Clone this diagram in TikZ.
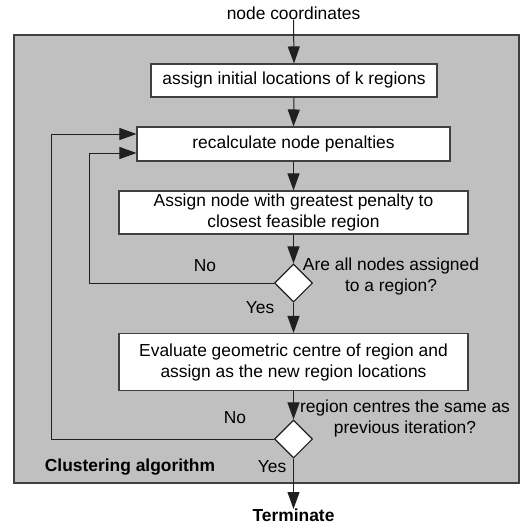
\documentclass[tikz,border=0pt]{standalone}
\usepackage{fontspec}
\setmainfont{Liberation Sans}
\usetikzlibrary{shapes.geometric,arrows.meta,calc}
\definecolor{panelgray}{HTML}{C0C0C0}
\definecolor{edgegray}{HTML}{404040}
\definecolor{linegray}{HTML}{202020}
\begin{document}
\begin{tikzpicture}[x=1pt,y=-1pt,
  every node/.style={font=\fontsize{17.4}{21}\selectfont, text=black},
  frame/.style={draw=edgegray, line width=1.3pt, fill=panelgray, inner sep=0pt},
  stepbox/.style={draw=edgegray, line width=1.1pt, fill=white, inner sep=0pt, align=center},
  decision/.style={diamond, draw=linegray, line width=1.1pt, fill=white, inner sep=0pt,
    minimum width=38pt, minimum height=38pt},
  label/.style={inner sep=0pt, align=center},
  flow/.style={draw=linegray, line width=1pt, -{Triangle[length=17pt,width=12pt]}},
  link/.style={draw=linegray, line width=1pt}]
\useasboundingbox (0,0) rectangle (529,527);

% enclosing panel
\node[frame, minimum width=505pt, minimum height=448pt] (panel) at (266.5,259) {};

% input / output
\node[label] (input) at (293.5,13) {node coordinates};
\node[label, font=\fontsize{17.4}{21}\selectfont\bfseries, anchor=north] (term) at (293.5,509) {Terminate};

% process boxes
\node[stepbox, minimum width=286pt, minimum height=33pt] (init) at (294,80.5)
  {assign initial locations of k regions};
\node[stepbox, minimum width=313pt, minimum height=34pt] (penal) at (293.5,144)
  {recalculate node penalties};
\node[stepbox, minimum width=349pt, minimum height=43pt] (assign) at (293.5,212.5)
  {Assign node with greatest penalty to\\closest feasible region};
\node[decision] (allset) at (293.5,283) {};
\node[stepbox, minimum width=349pt, minimum height=57pt] (centre) at (293.5,362)
  {Evaluate geometric centre of region and\\assign as the new region locations};
\node[decision] (same) at (293.5,439) {};

% decision texts
\node[label] (q1) at (391,276.5) {Are all nodes assigned\\to a region?};
\node[label] (q2) at (405,418.5) {region centres the same as\\previous iteration?};
\node[label] (no1) at (205,266) {No};
\node[label] (yes1) at (260,308) {Yes};
\node[label] (no2) at (235,418) {No};
\node[label] (yes2) at (272,467) {Yes};
\node[label, font=\fontsize{17.4}{21}\selectfont\bfseries] (title) at (130,467) {Clustering algorithm};

% main flow
\draw[flow] (input.south) -- (init.north);
\draw[flow] (init.south) -- (penal.north);
\draw[flow] (penal.south) -- (assign.north);
\draw[flow] (assign.south) -- (allset.north);
\draw[flow] (allset.south) -- (centre.north);
\draw[flow] (centre.south) -- (same.north);
\draw[flow] (same.south) -- (term.north);

% feedback loops
\coordinate (innerturn) at (89,153);
\coordinate (outerturn) at (51,134);
\draw[flow] (allset.west) -| (innerturn) -- (innerturn -| penal.west);
\draw[flow] (same.west) -| (outerturn) -- (outerturn -| penal.west);
\end{tikzpicture}
\end{document}
